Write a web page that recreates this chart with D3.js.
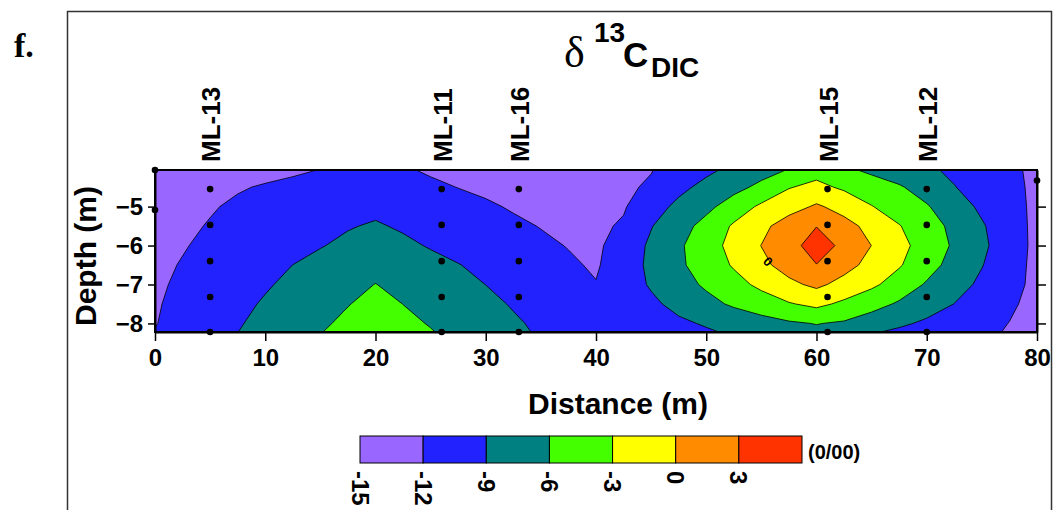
<!DOCTYPE html>
<html lang='en'>
	<head>
		<meta charset='utf-8'>
		<title>d13C DIC section</title>
		<script type='text/javascript' src='https://cdn.jsdelivr.net/npm/d3@7'></script>
		<style>
			body { margin: 0; background: #ffffff; }
			svg text { font-family: Arial, 'Liberation Sans', sans-serif; font-weight: bold; fill: #000; }
		</style>
	</head>
	<body>
		<script type='text/javascript'>
		// grid nodes (distance along section, m) and rows (depth, m)
		var distances = [0, 2.5, 5, 7.5, 10, 12.5, 15, 17.5, 20, 22.5, 25, 27.5, 30, 32.5, 35, 37.5, 40, 42.5, 45, 47.5, 50, 52.5, 55, 57.5, 60, 62.5, 65, 67.5, 70, 72.5, 75, 77.5, 80];
		var depths = [-4.06, -4.5, -5.0, -5.5, -6.0, -6.5, -7.0, -7.5, -8.0, -8.22];

		// d13C of DIC (per mil), one row per depth
		var d13c = [
			[-14.0, -13.8, -13.5, -13.1, -12.7, -12.35, -11.95, -11.6, -11.5, -11.7, -12.33, -12.7, -13.0, -13.2, -13.2, -13.1, -12.9, -12.6, -12.1, -10.83, -9.56, -8.32, -7.11, -5.85, -4.0, -5.43, -6.58, -7.56, -8.53, -9.52, -10.52, -11.52, -12.52],
			[-13.6, -13.2, -12.8, -12.2, -11.8, -11.45, -11.1, -10.75, -10.4, -10.95, -11.5, -12.05, -12.5, -12.8, -13.0, -13.0, -12.8, -12.4, -11.68, -9.7, -8.24, -6.89, -5.30, -3.15, -2.3, -3.44, -4.57, -5.71, -7.24, -8.91, -10.13, -11.32, -12.52],
			[-13.2, -12.75, -12.2, -11.63, -11.2, -10.8, -10.4, -9.95, -9.6, -9.95, -10.5, -11.1, -11.65, -12.24, -12.6, -12.7, -12.55, -12.24, -10.21, -8.35, -6.76, -4.61, -2.49, -1.22, 0.4, -1.05, -2.89, -4.34, -5.77, -7.68, -9.52, -11.05, -12.58],
			[-12.9, -12.45, -11.85, -11.32, -10.78, -10.24, -9.7, -9.16, -8.75, -9.3, -9.86, -10.41, -10.97, -11.53, -12.09, -12.4, -12.5, -11.7, -9.13, -7.18, -5.02, -2.63, -0.8, 1.5, 2.95, 1.0, -0.88, -2.86, -4.75, -6.69, -8.72, -10.7, -12.69],
			[-12.7, -12.15, -11.53, -10.92, -10.32, -9.72, -9.12, -8.51, -7.9, -8.5, -9.19, -9.77, -10.36, -10.95, -11.53, -12.1, -12.5, -10.68, -8.54, -6.44, -4.28, -2.11, 0.05, 2.2, 4.0, 2.5, -0.03, -2.14, -4.26, -6.39, -8.45, -10.57, -12.7],
			[-12.5, -11.87, -11.15, -10.43, -9.72, -8.99, -8.33, -7.67, -7.0, -7.64, -8.28, -8.92, -9.6, -10.28, -10.96, -11.65, -12.3, -10.38, -8.44, -6.51, -4.62, -2.72, -0.68, 1.16, 2.95, 0.99, -0.89, -2.74, -4.91, -6.98, -8.89, -10.81, -12.73],
			[-12.35, -11.63, -10.84, -10.05, -9.26, -8.44, -7.61, -6.78, -5.95, -6.72, -7.48, -8.25, -9.02, -9.8, -10.5, -11.2, -11.9, -10.31, -8.73, -7.15, -5.56, -3.98, -2.35, -0.64, 0.6, -0.93, -2.44, -4.3, -6.29, -7.92, -9.53, -11.11, -12.68],
			[-12.22, -11.36, -10.49, -9.61, -8.74, -7.85, -6.97, -6.09, -5.3, -6.02, -6.79, -7.59, -8.38, -9.2, -9.9, -10.4, -10.6, -10.2, -9.5, -8.26, -6.88, -5.57, -4.4, -3.22, -2.3, -3.58, -4.97, -6.36, -7.7, -9.04, -10.31, -11.58, -12.85],
			[-12.1, -11.13, -10.17, -9.22, -8.26, -7.31, -6.36, -5.5, -4.7, -5.42, -6.15, -6.99, -7.83, -8.67, -9.45, -9.85, -10.0, -9.95, -9.8, -9.45, -8.75, -7.96, -7.17, -6.38, -5.9, -6.35, -7.44, -8.52, -9.48, -10.34, -11.19, -12.05, -12.9],
			[-11.9, -10.94, -9.98, -9.02, -8.04, -7.06, -6.08, -5.28, -4.5, -5.18, -5.86, -6.71, -7.59, -8.47, -9.3, -9.6, -9.75, -9.75, -9.6, -9.4, -9.3, -8.64, -7.8, -7.0, -6.6, -7.67, -8.74, -9.51, -10.18, -10.85, -11.52, -12.19, -12.99]
		];

		var levels = [-15, -12, -9, -6, -3, 0, 3];
		var levelColors = ['#9966ff', '#2222ff', '#008080', '#44ff00', '#ffff00', '#ff8c00', '#ff3300'];

		// multilevel wells and sample points
		var wellNames = ['ML-13', 'ML-11', 'ML-16', 'ML-15', 'ML-12'];
		var wellDistances = [5, 26, 33, 61, 70];
		var sampleDepths = [-4.55, -5.47, -6.40, -7.32, -8.22];
		var extraDistances = [0, 0, 80];
		var extraDepths = [-4.06, -5.09, -4.33];

		var xTicks = [0, 10, 20, 30, 40, 50, 60, 70, 80];
		var yTicks = [-5, -6, -7, -8];

		{
			var width = 1059, height = 510;
			var svg = d3.select('body').append('svg').attr('width', width).attr('height', height);

			var x = d3.scaleLinear().domain([0, 80]).range([155, 1037]);
			var y = d3.scaleLinear().domain([-8.22, -4.06]).range([332, 170]);

			// panel frame
			svg.append('rect').attr('x', 67.5).attr('y', 11.5).attr('width', 984).attr('height', 560)
				.attr('fill', 'none').attr('stroke', '#333').attr('stroke-width', 1.5);

			svg.append('text').attr('x', 14).attr('y', 57)
				.style('font-family', "'Liberation Serif', 'Times New Roman', serif")
				.attr('font-size', 34).text('f.');

			// title
			svg.append('text').attr('x', 564).attr('y', 67)
				.style('font-family', "'Liberation Serif', 'Times New Roman', serif").style('font-weight', 'normal')
				.attr('font-size', 44).text('δ');
			svg.append('text').attr('x', 594).attr('y', 42).attr('font-size', 28).text('13');
			svg.append('text').attr('x', 623).attr('y', 67).attr('font-size', 35).text('C');
			svg.append('text').attr('x', 651).attr('y', 77).attr('font-size', 28).text('DIC');

			// background = lowest band
			svg.append('rect').attr('x', x(0)).attr('y', y(-4.06))
				.attr('width', x(80) - x(0)).attr('height', y(-8.22) - y(-4.06))
				.attr('fill', levelColors[0]);

			var nx = distances.length, ny = depths.length;
			var contours = d3.contours().size([nx, ny]).thresholds(levels.slice(1))(d3.merge(d13c));

			function toPixel(p) {
				var gx = Math.max(0, Math.min(nx - 1, p[0] - 0.5));
				var gy = Math.max(0, Math.min(ny - 1, p[1] - 0.5));
				var i = Math.min(nx - 2, Math.floor(gx)), j = Math.min(ny - 2, Math.floor(gy));
				var d = distances[i] + (gx - i) * (distances[i + 1] - distances[i]);
				var z = depths[j] + (gy - j) * (depths[j + 1] - depths[j]);
				return [x(d).toFixed(2), y(z).toFixed(2)];
			}
			function ringPath(ring) { return 'M' + ring.map(toPixel).join('L') + 'Z'; }

			svg.append('g').selectAll('path').data(contours).enter().append('path')
				.attr('d', c => c.coordinates.map(poly => poly.map(ringPath).join('')).join(''))
				.attr('fill', c => levelColors[levels.indexOf(c.value)])
				.attr('fill-rule', 'evenodd')
				.attr('stroke', '#000').attr('stroke-width', 0.8).attr('stroke-linejoin', 'round');

			// contour label
			svg.append('text')
				.attr('transform', 'translate(' + x(55.6) + ',' + y(-6.41) + ') rotate(45)')
				.attr('text-anchor', 'middle').attr('dominant-baseline', 'central')
				.attr('font-size', 13).text('0');

			// sample points
			var points = [];
			wellDistances.forEach(d => sampleDepths.forEach(z => points.push([d, z])));
			extraDistances.forEach((d, i) => points.push([d, extraDepths[i]]));
			svg.append('g').selectAll('circle').data(points).enter().append('circle')
				.attr('cx', d => x(d[0])).attr('cy', d => y(d[1])).attr('r', 3.3).attr('fill', '#000');

			// well names
			svg.append('g').selectAll('text').data(wellNames).enter().append('text')
				.attr('transform', (d, i) => 'translate(' + (x(wellDistances[i]) + 10) + ',162) rotate(-90)')
				.attr('font-size', 26).text(d => d);

			// plot frame
			svg.append('rect').attr('x', x(0)).attr('y', y(-4.06))
				.attr('width', x(80) - x(0)).attr('height', y(-8.22) - y(-4.06))
				.attr('fill', 'none').attr('stroke', '#000').attr('stroke-width', 2);

			// bottom axis
			var bottom = svg.append('g').attr('transform', 'translate(0,' + y(-8.22) + ')')
				.call(d3.axisBottom(x).tickValues(xTicks).tickFormat(d3.format('d'))
					.tickSize(9).tickPadding(8).tickSizeOuter(0));
			// left axis
			var left = svg.append('g').attr('transform', 'translate(' + x(0) + ',0)')
				.call(d3.axisLeft(y).tickValues(yTicks).tickFormat(d3.format('d'))
					.tickSize(7).tickPadding(5).tickSizeOuter(0));
			// right axis
			var right = svg.append('g').attr('transform', 'translate(' + x(80) + ',0)')
				.call(d3.axisRight(y).tickValues(yTicks).tickSize(9).tickFormat('').tickSizeOuter(0));

			[bottom, left, right].forEach(function(g) {
				g.attr('font-family', null).attr('font-size', 24);
				g.select('.domain').attr('stroke-width', 2);
				g.selectAll('.tick line').attr('stroke-width', 1.5);
			});

			svg.append('text').attr('x', 618).attr('y', 414).attr('text-anchor', 'middle')
				.attr('font-size', 30).text('Distance (m)');
			svg.append('text').attr('transform', 'translate(96,256) rotate(-90)').attr('text-anchor', 'middle')
				.attr('font-size', 30).text('Depth (m)');

			// colour legend
			var lx = d3.scaleLinear().domain([-15, 6]).range([360, 802]);
			svg.append('g').selectAll('rect').data(levels).enter().append('rect')
				.attr('x', d => lx(d)).attr('y', 436).attr('width', lx(3) - lx(0)).attr('height', 27)
				.attr('fill', (d, i) => levelColors[i]).attr('stroke', '#000').attr('stroke-width', 1);
			svg.append('g').selectAll('text').data(levels).enter().append('text')
				.attr('transform', d => 'translate(' + lx(d) + ',471) rotate(90)')
				.attr('dominant-baseline', 'central').attr('font-size', 24).text(d => d);
			svg.append('text').attr('x', 808).attr('y', 459).attr('font-size', 20).text('(0/00)');
		}
		</script>
	</body>
</html>
